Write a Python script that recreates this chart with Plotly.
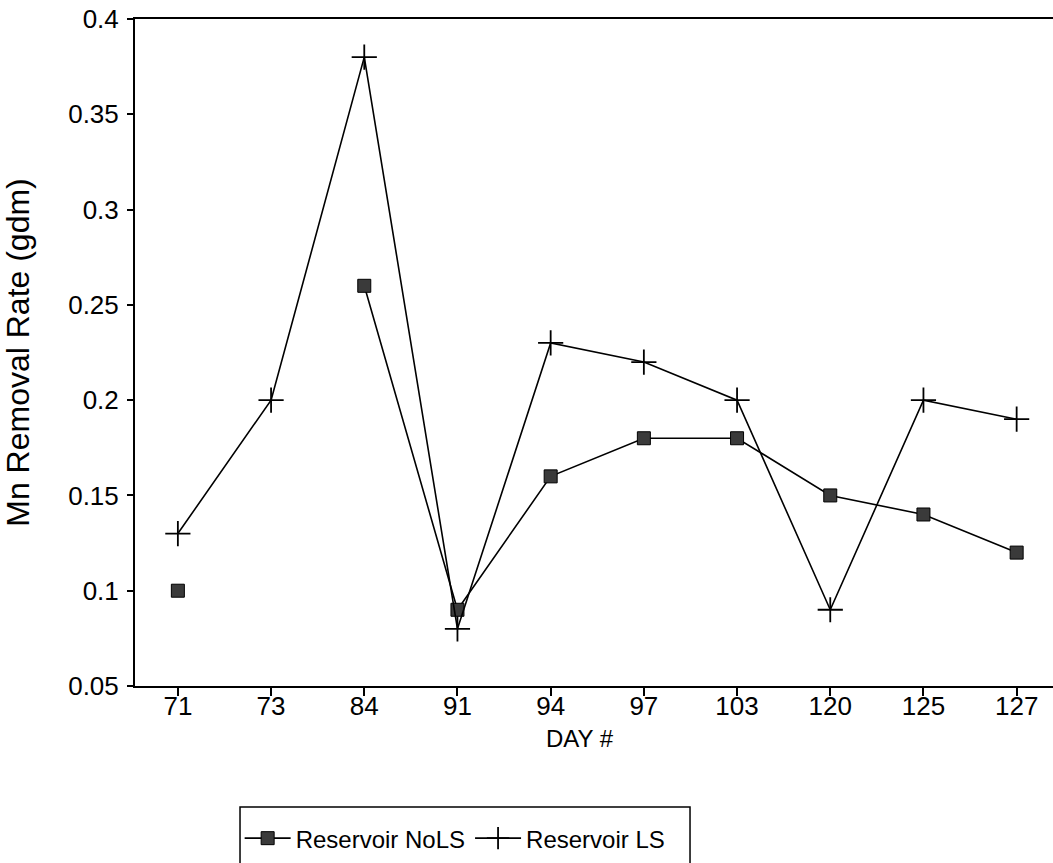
import plotly.graph_objects as go

days = ["71", "73", "84", "91", "94", "97", "103", "120", "125", "127"]
nols = [0.10, None, 0.26, 0.09, 0.16, 0.18, 0.18, 0.15, 0.14, 0.12]
ls = [0.13, 0.20, 0.38, 0.08, 0.23, 0.22, 0.20, 0.09, 0.20, 0.19]
y_ticks = [0.05, 0.1, 0.15, 0.2, 0.25, 0.3, 0.35, 0.4]
y_labels = ["0.05", "0.1", "0.15", "0.2", "0.25", "0.3", "0.35", "0.4"]

font_family = "Liberation Sans, Arial, sans-serif"

fig = go.Figure()
fig.add_trace(go.Scatter(
    x=days, y=nols, name="Reservoir NoLS", mode="lines+markers",
    connectgaps=False,
    line=dict(color="black", width=1.6),
    marker=dict(symbol="square", size=13, color="#3a3a3a",
                line=dict(color="black", width=1)),
))
fig.add_trace(go.Scatter(
    x=days, y=ls, name="Reservoir LS", mode="lines+markers",
    line=dict(color="black", width=1.6),
    marker=dict(symbol="cross-thin", size=18, color="black",
                line=dict(color="black", width=1.8)),
))

fig.update_layout(
    width=1053, height=863,
    margin=dict(l=135, r=0, t=19, b=177, pad=0),
    paper_bgcolor="white", plot_bgcolor="white",
    font=dict(family=font_family, size=24, color="black"),
    showlegend=True,
    legend=dict(
        orientation="h", x=0.114, y=-0.195, xanchor="left", yanchor="top",
        borderwidth=0, bgcolor="rgba(0,0,0,0)",
        font=dict(size=24, color="black"), itemwidth=46,
    ),
    xaxis=dict(
        type="category", categoryorder="array", categoryarray=days,
        range=[-0.46, 9.39], automargin=False,
        showline=True, linecolor="black", linewidth=2, mirror=True,
        ticks="outside", ticklen=8, tickcolor="black", tickwidth=1.5,
        ticklabelstandoff=-12,
        showgrid=False, zeroline=False,
        tickfont=dict(size=26),
    ),
    yaxis=dict(
        range=[0.05, 0.4], automargin=False,
        tickvals=y_ticks, ticktext=y_labels,
        ticklabeloverflow="allow",
        showline=True, linecolor="black", linewidth=2,
        ticks="outside", ticklen=6, tickcolor="black", tickwidth=1.5,
        ticklabelstandoff=3,
        showgrid=False, zeroline=False,
        tickfont=dict(size=26),
        title=dict(text="Mn Removal Rate (gdm)", font=dict(size=32), standoff=34),
    ),
    annotations=[dict(
        text="DAY #", xref="paper", yref="paper", x=0.485, y=-0.078,
        xanchor="center", yanchor="middle", showarrow=False,
        font=dict(size=24, color="black"),
    )],
    shapes=[dict(
        type="rect", xref="paper", yref="paper",
        x0=0.1144, x1=0.6046, y0=-0.1814, y1=-0.30,
        line=dict(color="black", width=1.5), fillcolor="rgba(0,0,0,0)",
        layer="below",
    )],
)

fig.write_html(
    "out.html",
    config={"displayModeBar": False},
    post_script="document.body.style.margin='0';document.body.style.overflow='hidden';",
)
